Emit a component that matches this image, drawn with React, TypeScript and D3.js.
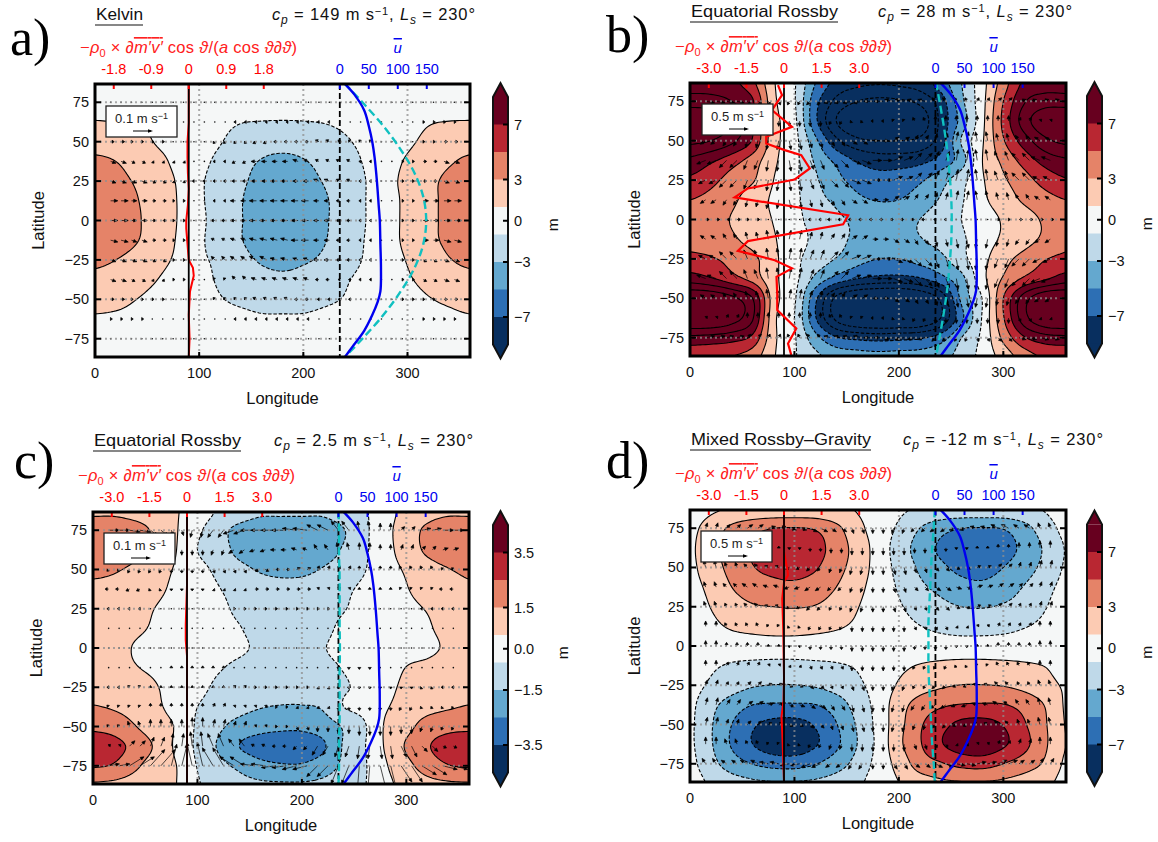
import React from "react";
import * as d3 from "d3";

const lonNodes = [0,20,40,60,80,100,120,140,160,180,200,220,240,260,280,300,320,340,360];
const latNodes = [87,75,62.5,50,37.5,25,12.5,0,-12.5,-25,-37.5,-50,-62.5,-75,-87];
const windLons = lonNodes.slice(1,-1);
const windLats = latNodes.slice(1,-1);
const bandColors = ["#082f5f","#2d6fb4","#64a8cf","#bfd9e9","#f5f7f7","#fccbb3","#e58368","#b92732","#67001f"];

const heightA = [
[.2,.2,.2,.1,0,0,-.1,-.1,-.2,-.2,-.2,-.2,-.1,-.1,0,.1,.1,.2,.2],
[.8,.7,.6,.4,.2,-.1,-.3,-.5,-.7,-.8,-.7,-.6,-.4,-.2,.1,.3,.5,.6,.8],
[1.05,1.0,.95,.7,.3,-.2,-.6,-.95,-1.03,-1.05,-1.03,-.95,-.7,-.3,.1,.5,.9,1.03,1.05],
[2.3,2.1,1.6,.85,.3,-.3,-.9,-1.7,-2.2,-2.3,-2.2,-1.8,-1.2,-.6,-.1,.7,1.4,2.1,2.3],
[3.3,3,2.3,1.5,.5,-.5,-1.4,-2.4,-3.1,-3.4,-3.1,-2.5,-1.7,-.8,.3,1.2,2,2.8,3.3],
[3.9,3.5,2.8,1.9,.8,-.7,-1.7,-2.7,-3.5,-3.8,-3.5,-2.9,-2,-1,.5,1.4,2.5,3.4,3.9],
[4.3,4,3.1,2.1,.9,-.7,-1.7,-2.9,-3.8,-4.2,-3.9,-3.2,-2.2,-1,.3,1.4,2.5,3.5,4.3],
[4.3,4.0,3.2,2.2,.9,-.6,-1.7,-2.9,-3.9,-4.3,-3.9,-3.2,-2.2,-1.0,.3,1.4,2.5,3.5,4.3],
[4.2,3.9,3.1,2,.8,-.7,-1.7,-2.9,-3.8,-4.1,-3.8,-3.1,-2.1,-.9,.3,1.4,2.5,3.4,4.2],
[3.4,3,2.3,1.4,.7,-.7,-1.3,-2.4,-3.2,-3.5,-3.2,-2.7,-1.8,-.8,.2,1.1,2,2.9,3.4],
[2.5,2.2,1.6,1,.5,-.5,-1.2,-1.9,-2.4,-2.6,-2.4,-2,-1.2,-.5,.1,.8,1.5,2.1,2.5],
[1.7,1.5,1,.6,.2,-.3,-.9,-1.3,-1.6,-1.7,-1.6,-1.3,-.9,-.4,-.1,.4,.9,1.3,1.7],
[.8,.7,.5,.3,.1,-.1,-.4,-.6,-.8,-.8,-.8,-.6,-.4,-.2,0,.2,.4,.6,.8],
[.4,.4,.3,.2,.1,-.1,-.2,-.3,-.4,-.4,-.4,-.3,-.2,-.1,0,.1,.2,.3,.4],
[.2,.2,.1,.1,0,0,-.1,-.1,-.2,-.2,-.2,-.1,-.1,0,0,0,.1,.1,.2],
];

const heightB = [
[8,8,7.5,5.5,1.2,-.8,-5,-7.6,-8.5,-8.8,-8.6,-8,-6,-3,.3,4,7.4,8,8],
[10,9.8,9,7.2,1.5,-.8,-6.2,-9.5,-11,-11.5,-11.3,-10.5,-8,-3.5,.4,5,8.8,10,10],
[13,12.5,10.8,7,1.8,-.5,-6.5,-11,-13,-13.5,-13.5,-12.5,-8.5,-4.2,.5,5.5,10,12.5,13],
[11.5,11,9.5,6.8,1.8,-.3,-4.5,-8.5,-10.5,-11,-11,-10.5,-8,-2.8,.8,4.8,8,10.5,11.5],
[8.5,7.4,5.9,4.1,1.4,-.4,-3.3,-5.5,-7.2,-8,-8,-7.6,-6.3,-3.9,1,3.5,5.8,7.8,8.7],
[6.6,5.6,4.2,3.2,1,-.6,-2.7,-4.4,-5.7,-6.2,-6,-5.3,-3.8,-1.7,.8,2.7,4.2,5.8,6.8],
[5,4.4,3.4,2,.7,-.5,-2.3,-3.4,-4.6,-5.1,-5,-4.2,-2.8,-1.2,.6,2,3.3,4.3,5],
[4.2,3.7,2.9,1.9,.9,-.5,-1.6,-2.6,-3.4,-3.8,-3.7,-3,-2,-1,.1,1.2,2.2,3.3,4.2],
[4.5,4.1,3.3,2.3,1.2,-.4,-1.3,-2.4,-3.4,-3.9,-3.7,-3.1,-2.4,-1.3,.1,1.3,2.3,3.4,4.5],
[5.5,5.2,4.4,3.5,1.5,-.5,-1.8,-3.1,-4.3,-5,-5,-4.3,-3.5,-1.6,.4,2.3,3.7,4.9,5.5],
[8,7.2,5.8,4.2,1.5,-.4,-3.5,-5.7,-7,-7.6,-7.7,-7.2,-5.7,-3.6,.4,3.2,5.3,6.7,8],
[13,12.8,11.5,9,2,-.7,-6.5,-11.5,-13.5,-14,-14,-13,-10.5,-4.5,-.9,5,10,12.8,13],
[13.5,13.3,12,9.2,1.6,-1,-6.8,-11.5,-13.5,-14,-14,-13.5,-11,-5.5,-.8,4.8,10.2,13,13.5],
[8.5,8.3,7.8,6.5,1.5,-.8,-4.3,-6.8,-7.5,-7.8,-7.6,-7.3,-6,-3,-.5,3.5,6.8,8.2,8.5],
[5.5,5.3,5,4,1.2,-.8,-2.5,-3.8,-4.2,-4.4,-4.3,-4.2,-3.6,-2.3,-.3,1.8,4,5.3,5.5],
];

const heightC = [
[1.3,1.3,1.1,.9,.55,.1,-.6,-.9,-1.3,-1.3,-1.3,-1.3,-.9,-.6,.1,.8,1.1,1.3,1.3],
[2.2,2.2,1.9,1.3,.55,-.3,-1.1,-1.8,-2.1,-2.2,-2.2,-2.1,-1.55,-.7,.2,1,1.7,2.2,2.2],
[2.3,2.2,1.8,1.2,.5,-.5,-1,-1.8,-2.2,-2.3,-2.2,-1.9,-1.4,-.65,.2,.9,1.7,2.2,2.3],
[1.7,1.6,1.3,.85,.4,-.2,-.7,-1.2,-1.6,-1.75,-1.7,-1.45,-1.1,-.55,.15,.6,1.05,1.45,1.7],
[1.35,1.25,1,.7,.3,-.05,-.45,-.85,-1.1,-1.2,-1.2,-1.05,-.7,-.3,.05,.45,.85,1.15,1.35],
[1.2,1.05,.8,.48,.2,0,-.25,-.7,-.95,-1.05,-1.05,-.9,-.55,-.2,.05,.3,.55,.9,1.2],
[1.1,.9,.65,.4,.2,.05,-.15,-.45,-.85,-1,-1,-.75,-.3,-.1,.05,.2,.4,.8,1.1],
[1,.8,.45,.25,.1,0,-.1,-.35,-.65,-.8,-.8,-.55,-.25,-.1,0,.15,.3,.65,1],
[1.05,.85,.55,.35,.15,.02,-.4,-.7,-.85,-.95,-.95,-.75,-.45,-.2,0,.52,.7,.9,1.05],
[1.25,1.15,.9,.55,.2,-.2,-.7,-.95,-1.1,-1.2,-1.2,-1.05,-.6,-.3,.15,.75,.95,1.1,1.25],
[1.55,1.4,1.1,.65,.2,-.5,-.9,-1.2,-1.45,-1.55,-1.55,-1.4,-.5,-.2,.4,.9,1.2,1.4,1.55],
[2.3,2.1,1.55,.9,.4,-.65,-1.3,-1.85,-2.15,-2.3,-2.3,-2,-1.4,-.6,.6,1.2,1.9,2.2,2.3],
[3,2.8,2.2,1.35,.3,-.7,-1.6,-2.5,-2.9,-3,-3,-2.65,-1.4,-.55,.6,1.6,2.4,2.9,3],
[2.6,2.4,1.7,1,.5,-.55,-1.2,-1.7,-2.2,-2.4,-2.4,-2,-1.3,-.6,.4,1.2,1.95,2.45,2.6],
[1.4,1.3,1.1,.8,.5,-.4,-.9,-1.2,-1.35,-1.4,-1.4,-1.3,-1,-.55,.25,.8,1.2,1.35,1.4],
];

const heightD = [
[0,.7,1.2,1.4,1.5,1.5,1.5,1.3,.9,.1,-.7,-1.2,-1.4,-1.5,-1.5,-1.5,-1.3,-.9,-.1],
[.5,1.9,3.4,4.4,5,5.1,4.8,3.5,1.6,.1,-1.3,-3,-4.3,-5,-5.1,-4.9,-3.7,-1.9,-.5],
[.7,2.3,3.9,5.2,6,6.2,5.7,4.1,2.2,.2,-1.9,-3.8,-5.3,-6,-6.2,-5.7,-4.5,-2.7,-.9],
[.6,2.1,3.6,4.9,5.5,5.8,5.2,3.7,2.1,.2,-1.6,-3.3,-4.6,-5.5,-5.8,-5,-3.9,-2.4,-.8],
[.4,1.5,3,4,4.4,4.5,4,3,1.6,.1,-1.2,-2.6,-3.5,-4.3,-4.5,-3.9,-2.9,-1.6,-.5],
[.1,1.05,2.1,2.8,3,3.1,2.9,2.2,1.1,0,-.8,-1.8,-2.5,-3,-3.1,-2.8,-2.2,-1.1,-.2],
[0,.6,1.2,1.5,1.7,1.7,1.5,1.2,.7,0,-.4,-.95,-1.4,-1.7,-1.7,-1.5,-1.1,-.6,-.1],
[0,.1,.15,.2,.2,.2,.2,.15,.1,0,-.1,-.15,-.2,-.2,-.2,-.2,-.15,-.1,0],
[0,-.7,-1.2,-1.45,-1.55,-1.55,-1.4,-1.2,-.8,0,.6,1.1,1.4,1.55,1.55,1.45,1.25,.95,.3],
[-.3,-1.3,-2.1,-2.8,-3.05,-3.05,-2.8,-2.2,-1.4,-.2,1.2,2.1,2.7,3.05,3.05,2.9,2.4,1.6,.8],
[-.6,-2.4,-3.9,-5,-5.2,-5.2,-5.05,-4,-2.2,-.3,2.1,3.8,4.7,5.1,5.2,5.1,4.3,2.9,.8],
[-.7,-2.8,-5,-6.7,-7.6,-7.7,-6.8,-5.1,-2.8,-.4,2.3,4.7,6.3,7.5,7.7,6.9,5.2,3.2,.9],
[-.7,-2.8,-5.2,-7,-8.1,-8.3,-7.2,-5.4,-3,-.5,2.5,4.8,6.8,8,8.3,7.3,5.6,3.3,1],
[-.5,-2.3,-4,-5.05,-5.7,-5.8,-5.1,-3.9,-2.3,-.3,1.7,3.9,4.8,5.6,5.8,5,4,2.7,.7],
[-.2,-1.3,-2.2,-2.7,-2.9,-2.9,-2.7,-2.2,-1.4,-.1,1,2.1,2.7,2.9,2.9,2.7,2.2,1.5,.4],
];

const windUA = [
[0,0,0,0,0,0,0,0,0,0,0,0,0,0,0,0,0],
[1,1,0,0,0,0,-1,-1,-1,-1,-1,0,0,0,0,1,1],
[2,1,1,0,0,-1,-1,-2,-2,-2,-2,-1,-1,0,0,1,2],
[3,2,1,1,0,-1,-2,-3,-3,-3,-2,-2,-1,0,1,2,3],
[3,3,2,1,-1,-1,-2,-3,-4,-3,-3,-2,-1,0,1,2,3],
[4,3,2,1,0,-1,-3,-4,-4,-4,-3,-2,-1,0,1,3,4],
[4,3,2,1,0,-2,-3,-4,-4,-4,-3,-2,-1,0,1,3,4],
[4,3,2,1,0,-2,-3,-4,-4,-4,-3,-2,-1,0,1,3,4],
[3,3,2,1,0,-2,-3,-4,-4,-3,-3,-2,-1,0,1,2,3],
[3,2,1,1,0,-1,-2,-3,-3,-3,-2,-1,-1,0,1,2,3],
[2,1,1,0,0,-1,-1,-2,-2,-2,-1,-1,0,0,1,1,2],
[1,1,0,0,0,0,-1,-1,-1,-1,0,0,0,0,0,1,1],
[0,0,0,0,0,0,0,0,0,0,0,0,0,0,0,0,0],
];
const windVA = [
[0,0,0,0,0,0,0,0,0,0,0,0,0,0,0,0,0],
[0,0,0,0,0,0,0,0,0,0,0,0,0,0,0,0,0],
[0,0,0,0,0,-1,-1,-1,0,0,1,1,1,0,0,0,0],
[-1,-1,-1,-1,0,0,-1,0,0,1,1,1,0,0,0,0,-1],
[-1,-1,-1,-1,0,0,0,0,0,0,1,1,0,0,0,0,-1],
[0,0,0,0,0,0,0,0,0,0,0,0,0,0,0,0,0],
[0,0,0,0,0,0,0,0,0,0,0,0,0,0,0,0,0],
[-1,-1,0,0,0,1,1,1,1,0,0,0,0,0,0,0,-1],
[-1,-1,-1,0,0,2,2,2,1,1,0,0,0,0,0,-1,-1],
[-1,-1,-1,0,0,1,2,1,1,1,0,0,0,0,0,-1,-1],
[0,0,0,0,0,1,1,1,1,0,0,0,0,0,0,0,0],
[0,0,0,0,0,0,0,0,0,0,0,0,0,0,0,0,0],
[0,0,0,0,0,0,0,0,0,0,0,0,0,0,0,0,0],
];

const windUB = [
[5,4,2,1,-1,-2,-4,-5,-5,-5,-4,-2,-1,1,2,4,5],
[1,1,0,0,0,0,-1,-1,-1,-1,-1,0,0,0,0,1,1],
[-3,-2,-1,-1,1,1,2,3,3,3,2,1,1,-1,-1,-2,-3],
[-5,-4,-2,-1,1,2,4,5,5,5,4,2,1,-1,-2,-4,-5],
[-4,-4,-2,-1,1,2,4,5,5,5,4,2,1,-1,-2,-4,-4],
[-3,-2,-1,-1,1,1,2,3,3,3,2,1,1,-1,-1,-2,-3],
[2,2,1,0,0,-1,-2,-2,-2,-2,-2,-1,0,0,1,2,2],
[-3,-2,-1,-1,1,1,2,3,3,3,2,1,1,-1,-1,-2,-3],
[-4,-4,-2,-1,1,2,4,5,5,5,4,2,1,-1,-2,-4,-4],
[-5,-4,-2,-1,1,2,4,5,5,5,4,2,1,-1,-2,-4,-5],
[-3,-2,-1,-1,1,1,2,3,3,3,2,1,1,-1,-1,-2,-3],
[1,1,0,0,0,0,-1,-1,-1,-1,-1,0,0,0,0,1,1],
[5,4,2,1,-1,-2,-4,-5,-5,-5,-4,-2,-1,1,2,4,5],
];
const windVB = [
[-1,-1,-2,-2,-2,-2,-1,-1,0,1,1,2,2,2,2,1,1],
[-1,-2,-3,-3,-3,-3,-2,-1,0,1,2,3,3,3,3,2,1],
[-2,-3,-4,-5,-5,-4,-3,-2,0,2,3,4,5,5,4,3,2],
[-2,-4,-5,-6,-6,-5,-4,-2,0,2,4,5,6,6,5,4,2],
[-2,-4,-5,-6,-6,-5,-4,-2,0,2,4,5,6,6,5,4,2],
[-2,-3,-4,-5,-5,-4,-3,-2,0,2,3,4,5,5,4,3,2],
[0,0,0,0,0,0,0,0,0,0,0,0,0,0,0,0,0],
[2,3,4,5,5,4,3,2,0,-2,-3,-4,-5,-5,-4,-3,-2],
[2,4,5,6,6,5,4,2,0,-2,-4,-5,-6,-6,-5,-4,-2],
[2,4,5,6,6,5,4,2,0,-2,-4,-5,-6,-6,-5,-4,-2],
[2,3,4,5,5,4,3,2,0,-2,-3,-4,-5,-5,-4,-3,-2],
[1,2,3,3,3,3,2,1,0,-1,-2,-3,-3,-3,-3,-2,-1],
[1,1,2,2,2,2,1,1,0,-1,-1,-2,-2,-2,-2,-1,-1],
];

const windUC = [
[6,6,4,1,-1,-3,-6,-8,-8,-8,-6,-4,-1,0,2,5,6],
[3,3,1,0,0,-1,-3,-3,-3,-3,-2,-1,0,0,1,2,3],
[-1,-1,-1,0,0,1,1,2,2,2,1,1,0,0,-1,-1,-1],
[-2,-2,-1,0,0,1,1,2,2,2,1,1,0,0,-1,-1,-2],
[-1,-1,0,0,0,0,1,1,1,1,1,0,0,0,0,-1,-1],
[0,0,0,0,0,0,0,0,0,0,0,0,0,0,0,0,0],
[0,0,0,0,0,0,0,0,0,0,0,0,0,0,0,0,0],
[0,0,0,0,0,0,0,0,0,0,0,0,0,0,0,0,0],
[-1,-1,0,0,0,0,1,1,1,1,1,0,0,0,0,-1,-1],
[-1,-1,0,0,0,1,1,1,1,1,1,0,0,0,-1,-1,-1],
[-1,-1,0,0,0,1,1,1,1,1,0,0,0,0,0,-1,-1],
[1,3,2,1,-1,-3,-3,-2,-2,-2,-3,-2,-1,1,3,3,2],
[6,8,8,3,-3,-6,-8,-8,-8,-8,-6,-4,-1,3,6,8,8],
];
const windVC = [
[0,-1,-3,-3,-4,-4,-2,0,0,1,3,5,5,4,2,1,0],
[-1,-2,-3,-3,-3,-3,-2,-1,0,1,3,4,4,3,3,2,1],
[-1,-2,-2,-2,-2,-2,-2,-1,0,1,2,2,2,2,2,2,1],
[0,-1,-1,-1,-1,-1,-1,0,0,0,1,1,1,1,1,1,0],
[0,0,0,0,0,0,0,0,0,0,0,0,0,0,0,0,0],
[0,0,0,0,0,0,0,0,0,0,0,0,0,0,0,0,0],
[0,0,0,0,0,0,0,0,0,0,0,0,0,0,0,0,0],
[0,0,0,1,1,1,0,0,0,0,0,-1,-1,0,0,0,0],
[0,1,1,1,1,1,1,0,0,0,-1,-1,-1,-1,-1,-1,0],
[1,1,2,2,2,2,1,1,0,-1,-1,-2,-2,-2,-2,-1,-1],
[1,3,4,4,5,4,3,1,0,-2,-3,-4,-5,-5,-4,-3,-2],
[1,3,5,7,8,7,4,1,0,-2,-5,-6,-7,-7,-6,-3,-1],
[1,5,9,12,13,10,5,1,-1,-2,-6,-10,-12,-12,-9,-5,-2],
];

const windUD = [
[1,2,3,4,4,4,3,1,0,-1,-2,-3,-4,-4,-4,-3,-1],
[0,0,0,0,0,0,0,0,0,0,0,0,0,0,0,0,0],
[-1,-1,-2,-2,-2,-2,-1,-1,0,1,1,2,2,2,2,1,1],
[-1,-2,-3,-3,-3,-3,-2,-1,0,1,2,3,3,3,3,2,1],
[-1,-1,-2,-2,-2,-2,-1,-1,0,1,1,2,2,2,2,1,1],
[0,-1,-1,-1,-1,-1,-1,0,0,0,1,1,1,1,1,1,0],
[0,0,0,0,0,0,0,0,0,0,0,0,0,0,0,0,0],
[0,1,1,1,1,1,1,0,0,0,-1,-1,-1,-1,-1,-1,0],
[1,1,2,2,2,2,1,1,0,-1,-1,-2,-2,-2,-2,-1,-1],
[1,2,3,3,3,3,2,1,0,-1,-2,-3,-3,-3,-3,-2,-1],
[1,1,2,2,2,2,1,1,0,-1,-1,-2,-2,-2,-2,-1,-1],
[0,-1,-1,-1,-1,-1,-1,0,0,0,1,1,1,1,1,1,0],
[-2,-3,-4,-5,-5,-5,-3,-2,0,2,3,4,5,5,5,3,2],
];
const windVD = [
[3,2,2,1,-1,-2,-2,-3,-3,-3,-2,-2,-1,1,2,2,3],
[4,3,2,1,-1,-2,-3,-4,-4,-4,-3,-2,-1,1,2,3,4],
[4,3,2,1,-1,-2,-3,-4,-4,-4,-3,-2,-1,1,2,3,4],
[3,2,2,1,-1,-2,-2,-3,-3,-3,-2,-2,-1,1,2,2,3],
[3,2,2,1,-1,-2,-2,-3,-3,-3,-2,-2,-1,1,2,2,3],
[3,2,2,1,-1,-2,-2,-3,-3,-3,-2,-2,-1,1,2,2,3],
[3,2,2,1,-1,-2,-2,-3,-3,-3,-2,-2,-1,1,2,2,3],
[3,2,2,1,-1,-2,-2,-3,-3,-3,-2,-2,-1,1,2,2,3],
[3,2,2,1,-1,-2,-2,-3,-3,-3,-2,-2,-1,1,2,2,3],
[4,3,2,1,-1,-2,-3,-4,-4,-4,-3,-2,-1,1,2,3,4],
[4,3,2,1,-1,-2,-3,-4,-4,-4,-3,-2,-1,1,2,3,4],
[4,3,2,1,-1,-2,-3,-4,-4,-4,-3,-2,-1,1,2,3,4],
[3,2,2,1,-1,-2,-2,-3,-3,-3,-2,-2,-1,1,2,2,3],
];

const meanWindLats = [87,80,70,60,50,40,25,10,0,-15,-30,-45,-52,-60,-70,-80,-87];
const meanWind = [8,25,42,50,56,60,64,67,69,70,71,70,65,56,42,22,8];
const phaseLats = [87,75,60,45,30,15,0,-15,-30,-45,-60,-75,-87];
const phaseA = [8,39,75,105,129,144,149,144,129,105,75,39,8];
const phaseB = [1,7,14,20,24,27,28,27,24,20,14,7,1];
const phaseC = [0,1,1,2,2,2,2.5,2,2,2,1,1,0];
const phaseD = [-1,-3,-6,-8,-10,-12,-12,-12,-10,-8,-6,-3,-1];

const forcingLatsA = [87,75,62,50,40,30,20,10,0,-5,-15,-25,-30,-35,-45,-60,-75,-87];
const forcingA = [0,0,0,-.03,-.03,-.02,0,-.02,-.06,-.06,-.03,0,.1,.12,.03,0,.02,0];
const forcingLatsB = [85.2,78.9,69.4,58.8,52.5,48.2,44,40.8,32.4,25.4,19.7,14,2.7,-3,-13.7,-19.9,-25.8,-31,-36.4,-47,-57.5,-69.2,-78.7,-86];
const forcingB = [-.24,-.08,-.48,.32,-.71,-.71,.03,.69,1.03,.43,-1.44,-1.97,2.56,2.36,-1.44,-1.84,-.37,.32,-.3,-.27,-.27,.49,.16,.29];
const forcingLatsC = [87,60,40,25,15,5,-5,-30,-60,-87];
const forcingC = [0,0,0,-.03,-.05,-.05,0,0,0,0];
const forcingLatsD = [87,60,48,45,41,30,10,-20,-35,-45,-55,-87];
const forcingD = [0,0,.14,.16,0,-.07,-.03,0,-.02,-.1,-.07,0];

const latTicks = [75,50,25,0,-25,-50,-75];
const lonTicks = [0,100,200,300];
const uTicks = [0,50,100,150];
const colorbarLabelsM = ["7","3","0","−3","−7"];
const colorbarLabelsC = ["3.5","1.5","0.0","−1.5","−3.5"];

const sans = "'Liberation Sans', Arial, sans-serif";
const serif = "'Liberation Serif', serif";
const K = 8;

function cr(a:number,b:number,c:number,d:number,t:number){
  return 0.5*((2*b)+(-a+c)*t+(2*a-5*b+4*c-d)*t*t+(-a+3*b-3*c+d)*t*t*t);
}
function upsample(tb:number[][]){
  const R=tb.length,C=tb[0].length,nx=(C-1)*K+1,ny=(R-1)*K+1;
  const out=new Float64Array(nx*ny);
  const cl=(v:number,m:number)=>Math.max(0,Math.min(m,v));
  for(let j=0;j<ny;j++){
    const rj=Math.min(R-2,Math.floor(j/K)),ty=j/K-rj;
    for(let i=0;i<nx;i++){
      const ci=Math.min(C-2,Math.floor(i/K)),tx=i/K-ci;
      const col=[-1,0,1,2].map(o=>{
        const row=tb[cl(rj+o,R-1)];
        return cr(row[cl(ci-1,C-1)],row[ci],row[ci+1],row[cl(ci+2,C-1)],tx);
      });
      out[j*nx+i]=cr(col[0],col[1],col[2],col[3],ty);
    }
  }
  return {values:out,nx,ny};
}

type Cfg={id:string;L:number;R:number;T:number;B:number;height:number[][];scale:number;windU:number[][];windV:number[][];
  forcingLats:number[];forcing:number[];forcingMax:number;forcingTicks:string[];phase:number[];key:string;
  box:[number,number];letter:string;letterPos:[number,number];title:string;titleW:number;titleY:number;cp:string;cpX:number;cpW:number;
  barX:number;barTop:number;barLabels:string[];mX:number;yLabelX:number;redOnTop:boolean};

function Panel({c}:{c:Cfg}){
  const x=d3.scaleLinear([0,360],[c.L,c.R]);
  const y=d3.scaleLinear([-86.6,86.6],[c.B,c.T]);
  const rowLat=d3.scaleLinear(d3.range(latNodes.length),latNodes);
  const {values,nx,ny}=upsample(c.height);
  const tr=d3.geoTransform({point(px:number,py:number){
    const lon=(px-0.5)/K*20; const lat=rowLat((py-0.5)/K);
    (this as any).stream.point(x(lon),y(lat));
  }});
  const gp=d3.geoPath(tr);
  const gen=d3.contours().size([nx,ny]);
  const base=[-11,-9,-7,-5,-3,-1,1,3,5,7,9,11].map(t=>t*c.scale);
  const levels=c.scale===1?base:base.filter(t=>Math.abs(t)<=3.5);
  const color=d3.scaleThreshold<number,string>().domain([-7,-5,-3,-1,1,3,5,7].map(t=>t*c.scale)).range(bandColors);
  const polys=levels.map(t=>({t,d:gp(gen.contour(values as any,t) as any)||""}));
  const uX=d3.scaleLinear([0,150],[x(235),x(318.5)]);
  const fX=d3.scaleLinear([-c.forcingMax,c.forcingMax],[x(90-72),x(90+72)]);
  const lineU=d3.line<number>().x(u=>uX(u)).y((_,i)=>y(meanWindLats[i])).curve(d3.curveCatmullRom);
  const linePhase=d3.line<number>().x(u=>uX(u)).y((_,i)=>y(phaseLats[i])).curve(d3.curveCatmullRom);
  const lineF=d3.line<number>().x(u=>fX(u)).y((_,i)=>y(c.forcingLats[i]));
  const unit=1.8;
  const arrows:string[]=[];const dots:[number,number][]=[];
  // each table cell covers a 20 degree wide bin, drawn as two arrows like the reference's closer spacing
  windLats.forEach((la,j)=>windLons.forEach((lo,i)=>{
    [lo-5,lo+5].forEach(pos=>{
      const u=c.windU[j][i],v=c.windV[j][i],x0=x(pos),y0=y(la);
      if(u===0&&v===0){dots.push([x0,y0]);return;}
      const dx=u*unit,dy=-v*unit,len=Math.hypot(dx,dy),ux=dx/len,uy=dy/len;
      const hl=Math.min(3.5,Math.max(2,len*.6)),hw=1.5;
      const bx=x0+dx-ux*hl,by=y0+dy-uy*hl;
      arrows.push(`M${x0},${y0}L${bx},${by}M${x0+dx},${y0+dy}L${bx-uy*hw},${by+ux*hw}L${bx+uy*hw},${by-ux*hw}Z`);
    });
  }));
  const clipId="clip"+c.id;
  const midY=(c.T+c.B)/2;
  const segH=27.5,barW=15;
  const barColors=[...bandColors].reverse();
  const barY=d3.scaleLinear([0,9],[c.barTop,c.barTop+9*segH]);
  const barTicks=[1,3,4.5,6,8];
  const keyLabel=c.key;
  return (
    <g>
      <defs><clipPath id={clipId}><rect x={c.L} y={c.T} width={c.R-c.L} height={c.B-c.T}/></clipPath></defs>
      <g clipPath={`url(#${clipId})`}>
        <rect x={c.L} y={c.T} width={c.R-c.L} height={c.B-c.T} fill={bandColors[0]}/>
        {polys.map(p=><path key={p.t} d={p.d} fill={color(p.t+1e-6)}/>)}
        {polys.map(p=><path key={p.t} d={p.d} fill="none" stroke="#000" strokeWidth={1.1} strokeDasharray={p.t<0?"3.5 1.8":undefined}/>)}
        {arrows.map((d,i)=><path key={i} d={d} fill="#000" stroke="#000" strokeWidth={0.7}/>)}
        {dots.map((p,i)=><circle key={i} cx={p[0]} cy={p[1]} r={0.8} fill="#111"/>)}
        {latTicks.map(t=><line key={t} x1={c.L} x2={c.R} y1={y(t)} y2={y(t)} stroke="#8f8f8f" strokeOpacity={0.75} strokeWidth={2} strokeDasharray="2 3"/>)}
        {lonTicks.slice(1).map(t=><line key={t} x1={x(t)} x2={x(t)} y1={c.T} y2={c.B} stroke="#8f8f8f" strokeOpacity={0.75} strokeWidth={2} strokeDasharray="2 3"/>)}
        {!c.redOnTop&&<path d={lineF(c.forcing)||""} fill="none" stroke="#ff0000" strokeWidth={2}/>}
        <line x1={x(90)} x2={x(90)} y1={c.T} y2={c.B} stroke="#000" strokeWidth={1.8}/>
        <line x1={x(235)} x2={x(235)} y1={c.T} y2={c.B} stroke="#000" strokeWidth={1.8} strokeDasharray="6 3"/>
        <path d={linePhase(c.phase)||""} fill="none" stroke="#10c0c0" strokeWidth={2.4} strokeDasharray="8 4"/>
        <path d={lineU(meanWind)||""} fill="none" stroke="#0000f0" strokeWidth={2.4}/>
        {c.redOnTop&&<path d={lineF(c.forcing)||""} fill="none" stroke="#ff0000" strokeWidth={2.2}/>}
      </g>
      {[-1,-.5,0,.5,1].map((f,i)=>{const px=fX(f*c.forcingMax);return <g key={i}>
        <line x1={px} x2={px} y1={c.T} y2={c.T+5} stroke="#ff0000" strokeWidth={2}/>
        <text x={px} y={c.T-10} textAnchor="middle" fontSize={14.5} fontFamily={sans} fill="#ff0000">{c.forcingTicks[i]}</text></g>;})}
      {uTicks.map(u=><g key={u}>
        <line x1={uX(u)} x2={uX(u)} y1={c.T} y2={c.T+5} stroke="#0000f0" strokeWidth={2}/>
        <text x={uX(u)} y={c.T-10} textAnchor="middle" fontSize={14.5} fontFamily={sans} fill="#0000f0">{u}</text></g>)}
      <rect x={c.L} y={c.T} width={c.R-c.L} height={c.B-c.T} fill="none" stroke="#000" strokeWidth={3}/>
      {latTicks.map(t=><g key={t}>
        <line x1={c.L} x2={c.L+6} y1={y(t)} y2={y(t)} stroke="#000" strokeWidth={2}/>
        <line x1={c.R-6} x2={c.R} y1={y(t)} y2={y(t)} stroke="#000" strokeWidth={2}/>
        <text x={c.L-6} y={y(t)+5} textAnchor="end" fontSize={14.5} fontFamily={sans} fill="#111">{t<0?`−${-t}`:t}</text></g>)}
      {lonTicks.map(t=><g key={t}>
        <line x1={x(t)} x2={x(t)} y1={c.B-5} y2={c.B} stroke="#000" strokeWidth={2}/>
        <text x={x(t)} y={c.B+21} textAnchor="middle" fontSize={14.5} fontFamily={sans} fill="#111">{t}</text></g>)}
      <text x={(c.L+c.R)/2} y={c.B+47} textAnchor="middle" fontSize={16.5} fontFamily={sans} fill="#111">Longitude</text>
      <text transform={`translate(${c.yLabelX},${midY}) rotate(-90)`} textAnchor="middle" fontSize={16.5} fontFamily={sans} fill="#111">Latitude</text>
      <rect x={c.box[0]} y={c.box[1]} width={71} height={31} fill="#fff" stroke="#222" strokeWidth={1.3}/>
      <text x={c.box[0]+35.5} y={c.box[1]+17} textAnchor="middle" fontSize={13} fontFamily={sans} fill="#222">{keyLabel} m s<tspan dy={-4} fontSize={9}>−1</tspan></text>
      <path d={`M${c.box[0]+27},${c.box[1]+25}H${c.box[0]+45}`} stroke="#000" strokeWidth={1}/>
      <path d={`M${c.box[0]+47},${c.box[1]+25}l-5,-1.7v3.4Z`} fill="#000"/>
      <text x={c.letterPos[0]} y={c.letterPos[1]} fontSize={52} fontFamily={serif} fill="#000">{c.letter}</text>
      <text x={c.L+1} y={c.titleY} fontSize={17} fontFamily={sans} fill="#111" textLength={c.titleW} lengthAdjust="spacingAndGlyphs">{c.title}</text>
      <line x1={c.L} x2={c.L+c.titleW+1} y1={c.titleY+5} y2={c.titleY+5} stroke="#111" strokeWidth={1.2}/>
      <text x={c.cpX} y={c.titleY} fontSize={16.5} fontFamily={sans} fill="#111" textLength={c.cpW}>
        <tspan fontStyle="italic">c</tspan><tspan fontStyle="italic" dy={4} fontSize={12}>p</tspan><tspan dy={-4}> = {c.cp} m s</tspan><tspan dy={-5} fontSize={11}>−1</tspan><tspan dy={5}>, </tspan><tspan fontStyle="italic">L</tspan><tspan fontStyle="italic" dy={4} fontSize={12}>s</tspan><tspan dy={-4}> = 230°</tspan>
      </text>
      <text x={c.L-15} y={c.T-31} fontSize={16.5} fontFamily={sans} fill="#ff2020" textLength={217}>
        −<tspan fontStyle="italic">ρ</tspan><tspan dy={4} fontSize={11}>0</tspan><tspan dy={-4}> × ∂</tspan><tspan fontStyle="italic" textDecoration="overline">m′v′</tspan> cos <tspan fontStyle="italic">ϑ</tspan>/(<tspan fontStyle="italic">a</tspan> cos <tspan fontStyle="italic">ϑ∂ϑ</tspan>)
      </text>
      <text x={uX(100)} y={c.T-31} textAnchor="middle" fontSize={15} fontStyle="italic" fontFamily={sans} fill="#0000f0" textDecoration="overline">u</text>
      {barColors.map((col,i)=><rect key={i} x={c.barX} y={barY(i)} width={barW} height={segH+0.5} fill={col}/>)}
      <path d={`M${c.barX},${barY(0)}L${c.barX+barW/2},${barY(0)-14}L${c.barX+barW},${barY(0)}Z`} fill={barColors[0]}/>
      <path d={`M${c.barX},${barY(9)}L${c.barX+barW/2},${barY(9)+14}L${c.barX+barW},${barY(9)}Z`} fill={barColors[8]}/>
      <path d={`M${c.barX},${barY(0)}L${c.barX+barW/2},${barY(0)-14}L${c.barX+barW},${barY(0)}V${barY(9)}L${c.barX+barW/2},${barY(9)+14}L${c.barX},${barY(9)}Z`} fill="none" stroke="#111" strokeWidth={2}/>
      {barTicks.map((b,i)=><g key={i}>
        <line x1={c.barX+barW-5} x2={c.barX+barW} y1={barY(b)} y2={barY(b)} stroke="#000" strokeWidth={2}/>
        <text x={c.barX+barW+6} y={barY(b)+5} fontSize={14.5} fontFamily={sans} fill="#111">{c.barLabels[i]}</text></g>)}
      <text transform={`translate(${c.mX},${barY(4.5)+4}) rotate(-90)`} textAnchor="middle" fontSize={15.5} fontFamily={sans} fill="#111">m</text>
    </g>
  );
}

const panels:Cfg[]=[
 {id:"a",L:95,R:470,T:84,B:357,height:heightA,scale:1,windU:windUA,windV:windVA,forcingLats:forcingLatsA,forcing:forcingA,forcingMax:1.8,forcingTicks:["-1.8","-0.9","0","0.9","1.8"],phase:phaseA,key:"0.1",box:[106,106],letter:"a)",letterPos:[10,55],title:"Kelvin",titleW:47,titleY:20,cp:"149",cpX:272,cpW:203,barX:493,barTop:97,barLabels:colorbarLabelsM,mX:558,yLabelX:44,redOnTop:false},
 {id:"b",L:690,R:1066,T:83,B:356,height:heightB,scale:1,windU:windUB,windV:windVB,forcingLats:forcingLatsB,forcing:forcingB,forcingMax:3,forcingTicks:["-3.0","-1.5","0","1.5","3.0"],phase:phaseB,key:"0.5",box:[702,104],letter:"b)",letterPos:[606,52],title:"Equatorial Rossby",titleW:147,titleY:17,cp:"28",cpX:878,cpW:194,barX:1087,barTop:96,barLabels:colorbarLabelsM,mX:1152,yLabelX:640,redOnTop:true},
 {id:"c",L:93,R:469,T:512,B:784,height:heightC,scale:.5,windU:windUC,windV:windVC,forcingLats:forcingLatsC,forcing:forcingC,forcingMax:3,forcingTicks:["-3.0","-1.5","0","1.5","3.0"],phase:phaseC,key:"0.1",box:[104,533],letter:"c)",letterPos:[14,478],title:"Equatorial Rossby",titleW:147,titleY:446,cp:"2.5",cpX:274,cpW:199,barX:493,barTop:525,barLabels:colorbarLabelsC,mX:568,yLabelX:42,redOnTop:false},
 {id:"d",L:690,R:1066,T:510,B:782,height:heightD,scale:1,windU:windUD,windV:windVD,forcingLats:forcingLatsD,forcing:forcingD,forcingMax:3,forcingTicks:["-3.0","-1.5","0","1.5","3.0"],phase:phaseD,key:"0.5",box:[701,531],letter:"d)",letterPos:[606,478],title:"Mixed Rossby–Gravity",titleW:180,titleY:445,cp:"-12",cpX:903,cpW:200,barX:1087,barTop:524.5,barLabels:colorbarLabelsM,mX:1152,yLabelX:640,redOnTop:false},
];

export default function App(){
  return (
    <svg width={1158} height={842} style={{position:"absolute",left:0,top:0,background:"#fff"}}>
      {panels.map(p=><Panel key={p.id} c={p}/>)}
    </svg>
  );
}
